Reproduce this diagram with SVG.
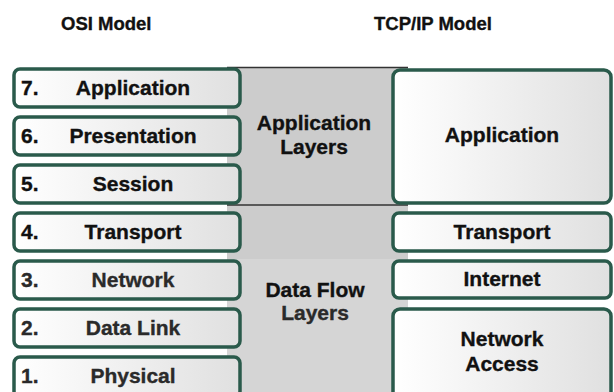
<svg xmlns="http://www.w3.org/2000/svg" width="614" height="392" viewBox="0 0 614 392">
<defs>
<linearGradient id="g" x1="0" y1="0" x2="1" y2="0">
<stop offset="0" stop-color="#ffffff"/>
<stop offset="1" stop-color="#e0e0e0"/>
</linearGradient>
</defs>
<style>
.box{fill:url(#g);stroke:#2a5a4b;stroke-width:3.5}
text{font-family:"Liberation Sans",Arial,sans-serif;font-weight:bold;fill:#111;stroke:#111;stroke-width:0.35}
.h{font-size:18.5px}
.t{font-size:21px;text-anchor:middle}
.n{font-size:21px}
.m{font-size:21px;text-anchor:middle}
.fade{fill:#2a2a2a;stroke:#2a2a2a}
</style>
<rect width="614" height="392" fill="#ffffff"/>
<text class="h" x="61" y="30">OSI Model</text>
<text class="h" x="374" y="30">TCP/IP Model</text>

<g id="bands">
<rect x="227" y="68" width="181" height="137" fill="#cccccc"/>
<rect x="227" y="205" width="181" height="54" fill="#cccccc"/>
<rect x="227" y="259" width="181" height="133" fill="#d5d5d5"/>
<line x1="227" y1="67.5" x2="408" y2="67.5" stroke="#333" stroke-width="1.5"/>
<line x1="227" y1="205" x2="408" y2="205" stroke="#333" stroke-width="1.5"/>
<text class="m" x="314" y="130">Application</text>
<text class="m" x="314" y="154">Layers</text>
<text class="m" x="315" y="297">Data Flow</text>
<text class="m fade" x="315" y="320">Layers</text>
</g>

<g id="osi7"><rect class="box" x="14" y="69" width="226" height="38" rx="6"/><text class="n" x="21" y="95">7.</text><text class="t" x="133" y="95">Application</text></g>
<g id="osi6"><rect class="box" x="14" y="117" width="226" height="38" rx="6"/><text class="n" x="21" y="143">6.</text><text class="t" x="133" y="143">Presentation</text></g>
<g id="osi5"><rect class="box" x="14" y="165" width="226" height="38" rx="6"/><text class="n" x="21" y="191">5.</text><text class="t" x="133" y="191">Session</text></g>
<g id="osi4"><rect class="box" x="14" y="213" width="226" height="38" rx="6"/><text class="n" x="21" y="239">4.</text><text class="t" x="133" y="239">Transport</text></g>
<g id="osi3"><rect class="box" x="14" y="261" width="226" height="38" rx="6"/><text class="n fade" x="21" y="287">3.</text><text class="t fade" x="133" y="287">Network</text></g>
<g id="osi2"><rect class="box" x="14" y="309" width="226" height="38" rx="6"/><text class="n fade" x="21" y="335">2.</text><text class="t fade" x="133" y="335">Data Link</text></g>
<g id="osi1"><rect class="box" x="14" y="357" width="226" height="40" rx="6"/><text class="n fade" x="21" y="383">1.</text><text class="t fade" x="133" y="383">Physical</text></g>

<g id="tcp-app"><rect class="box" x="393" y="70" width="218" height="133" rx="7"/><text class="t" x="502" y="142">Application</text></g>
<g id="tcp-transport"><rect class="box" x="393" y="213" width="218" height="38" rx="6"/><text class="t" x="502" y="239">Transport</text></g>
<g id="tcp-internet"><rect class="box" x="393" y="261" width="218" height="37" rx="6"/><text class="t" x="502" y="286">Internet</text></g>
<g id="tcp-netaccess"><rect class="box" x="393" y="309" width="218" height="90" rx="7"/><text class="t" x="502" y="346">Network</text><text class="t" x="502" y="371">Access</text></g>
</svg>
